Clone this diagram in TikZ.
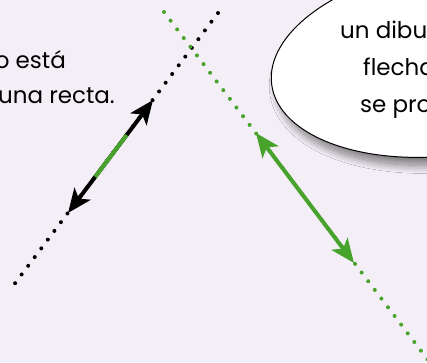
\documentclass[tikz,border=0pt]{standalone}
\usepackage{fontspec}
\setmainfont{Poppins}
\usetikzlibrary{arrows.meta,shapes.geometric,shadows.blur,calc}
\definecolor{lavender}{RGB}{244,238,246}
\definecolor{leafgreen}{RGB}{72,163,45}

\begin{document}
\begin{tikzpicture}[x=1pt,y=-1pt,
  dotline/.style={line width=4pt,line cap=round,dash pattern=on 0pt off 10.9pt},
  bigarrow/.style={line width=4pt,{Stealth[length=24pt,width=20pt,inset=6pt]}-{Stealth[length=24pt,width=20pt,inset=6pt]}},
  saying/.style={anchor=base west,inner sep=0pt,font=\fontsize{23}{27}\selectfont}]
\useasboundingbox (0,0) rectangle (427,362);
\clip (0,0) rectangle (427,362);
\fill[lavender] (0,0) rectangle (427,362);
\coordinate (blackTop) at (218,13);
\coordinate (blackEnd) at (13,286);
\coordinate (greenTop) at (164,12);
\coordinate (greenEnd) at (431,364);
\coordinate (blackTipA) at (153,100);
\coordinate (blackTipB) at (68,213);
\coordinate (greenTipA) at (256,133);
\coordinate (greenTipB) at (354,263);
\draw[dotline,black] (blackTop) -- (blackEnd);
\draw[dotline,leafgreen] (greenTop) -- (greenEnd);
\draw[bigarrow,black] (blackTipA) -- (blackTipB);
\draw[line width=4pt,leafgreen] ($(blackTipA)!0.31!(blackTipB)$) -- ($(blackTipA)!0.68!(blackTipB)$);
\draw[bigarrow,leafgreen] (greenTipA) -- (greenTipB);
\node[anchor=base east,inner sep=0pt,font=\fontsize{23}{27}\selectfont] (lineA) at (66,68) {o está};
\node[anchor=base east,inner sep=0pt,font=\fontsize{23}{27}\selectfont] (lineB) at (115,103) {una recta.};
\node[ellipse,draw,fill=white,line width=1pt,minimum width=360pt,minimum height=190pt,rotate=8,
  blur shadow={shadow xshift=6pt,shadow yshift=-8pt,shadow blur radius=8pt,shadow blur steps=20,shadow opacity=50}] (bubble) at (450,60) {};
\node[saying] (bubbleA) at (340,38) {un dibu};
\node[saying] (bubbleB) at (363,75) {flecha};
\node[saying] (bubbleC) at (360,112) {se pro};
\end{tikzpicture}
\end{document}
